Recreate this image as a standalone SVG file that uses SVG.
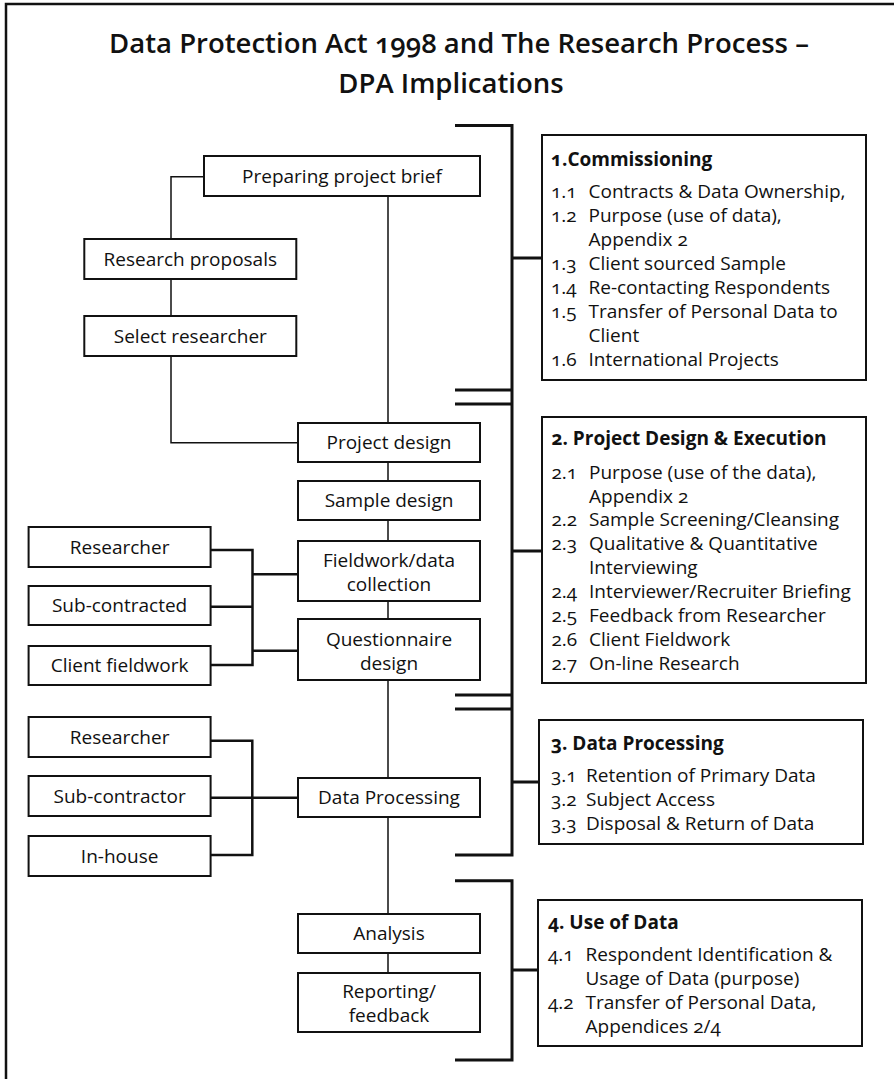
<svg xmlns="http://www.w3.org/2000/svg" width="894" height="1079" viewBox="0 0 894 1079">
<style>
text{font-family:"Open Sans","Noto Sans","Liberation Sans",sans-serif;font-size:19px;fill:#111;font-variant-numeric:oldstyle-nums;}
.t{font-size:27.5px;font-weight:600;text-anchor:middle;}
.c{text-anchor:middle;}
.h{font-weight:700;}
.box{fill:#fff;stroke:#111;stroke-width:2;}
.thin{fill:none;stroke:#111;stroke-width:1.5;}
.mid{fill:none;stroke:#111;stroke-width:2.5;}
.br{fill:none;stroke:#111;stroke-width:3;}
</style>
<rect x="0" y="0" width="894" height="1079" fill="#fff"/>
<path d="M6,1079 V4 H894" fill="none" stroke="#111" stroke-width="2.5"/>
<g id="title">
<text class="t" x="459" y="53">Data Protection Act 1998 and The Research Process –</text>
<text class="t" x="451" y="93">DPA Implications</text>
</g>
<g id="connectors">
<path class="thin" d="M388,196 V423 M388,462 V481 M388,520 V541 M388,601 V619 M388,680 V778 M388,817 V914 M388,953 V973"/>
<path class="thin" d="M204,176.7 H171 V239 M171,279 V316 M171,356 V442.7 H298"/>
<path class="mid" d="M210.7,550 H252.5 V665 H210.7 M210.7,606.7 H252.5 M252.5,574.3 H298 M252.5,650.7 H298"/>
<path class="mid" d="M210.7,740.7 H252.3 V855 H210.7 M210.7,797.7 H298"/>
<path class="br" d="M455,125.5 H512 V855 H455 M455,390 H512 M455,404 H512 M455,695 H512 M455,709 H512 M455,880.7 H512 V1060 H455"/>
<path class="br" d="M512,258 H542 M512,551 H542 M512,782 H539 M512,970 H538"/>
</g>
<g id="n-brief"><rect class="box" x="204" y="156" width="276" height="40"/><text class="c" x="342" y="182.5">Preparing project brief</text></g>
<g id="n-proposals"><rect class="box" x="84.3" y="239" width="212" height="40"/><text class="c" x="190.3" y="265.5">Research proposals</text></g>
<g id="n-select"><rect class="box" x="84.3" y="316" width="212" height="40"/><text class="c" x="190.3" y="342.5">Select researcher</text></g>
<g id="n-projdesign"><rect class="box" x="298" y="423" width="182" height="39"/><text class="c" x="389" y="449">Project design</text></g>
<g id="n-sample"><rect class="box" x="298" y="481" width="182" height="39"/><text class="c" x="389" y="507">Sample design</text></g>
<g id="n-fieldwork"><rect class="box" x="298" y="541" width="182" height="60"/><text class="c" x="389" y="566.5">Fieldwork/data</text><text class="c" x="389" y="590.5">collection</text></g>
<g id="n-questionnaire"><rect class="box" x="298" y="619" width="182" height="61"/><text class="c" x="389" y="645.5">Questionnaire</text><text class="c" x="389" y="669.5">design</text></g>
<g id="n-researcher1"><rect class="box" x="28.6" y="527" width="182" height="40"/><text class="c" x="119.6" y="553.5">Researcher</text></g>
<g id="n-subcontracted"><rect class="box" x="28.6" y="586" width="182" height="39"/><text class="c" x="119.6" y="612">Sub-contracted</text></g>
<g id="n-clientfw"><rect class="box" x="28.6" y="646" width="182" height="39"/><text class="c" x="119.6" y="672">Client fieldwork</text></g>
<g id="n-researcher2"><rect class="box" x="28.6" y="717" width="182" height="40"/><text class="c" x="119.6" y="743.5">Researcher</text></g>
<g id="n-subcontractor"><rect class="box" x="28.6" y="776" width="182" height="40"/><text class="c" x="119.6" y="802.5">Sub-contractor</text></g>
<g id="n-inhouse"><rect class="box" x="28.6" y="836" width="182" height="40"/><text class="c" x="119.6" y="862.5">In-house</text></g>
<g id="n-dataproc"><rect class="box" x="298" y="778" width="182" height="39"/><text class="c" x="389" y="804">Data Processing</text></g>
<g id="n-analysis"><rect class="box" x="298" y="914" width="182" height="39"/><text class="c" x="389" y="940">Analysis</text></g>
<g id="n-reporting"><rect class="box" x="298" y="973" width="182" height="59"/><text class="c" x="389" y="998">Reporting/</text><text class="c" x="389" y="1022">feedback</text></g>
<g id="b-commissioning">
<rect class="box" x="542" y="135" width="324" height="245"/>
<text class="h" x="551" y="166">1.Commissioning</text>
<text x="551" y="198">1.1</text><text x="588.5" y="198">Contracts &amp; Data Ownership,</text>
<text x="551" y="222">1.2</text><text x="588.5" y="222">Purpose (use of data),</text>
<text x="588.5" y="246">Appendix 2</text>
<text x="551" y="270">1.3</text><text x="588.5" y="270">Client sourced Sample</text>
<text x="551" y="294">1.4</text><text x="588.5" y="294">Re-contacting Respondents</text>
<text x="551" y="318">1.5</text><text x="588.5" y="318">Transfer of Personal Data to</text>
<text x="588.5" y="342">Client</text>
<text x="551" y="366">1.6</text><text x="588.5" y="366">International Projects</text>
</g>
<g id="b-design">
<rect class="box" x="542" y="417" width="324" height="266"/>
<text class="h" x="551.5" y="445">2. Project Design &amp; Execution</text>
<text x="551.5" y="479">2.1</text><text x="589" y="479">Purpose (use of the data),</text>
<text x="589" y="502.5">Appendix 2</text>
<text x="551.5" y="526">2.2</text><text x="589" y="526">Sample Screening/Cleansing</text>
<text x="551.5" y="550">2.3</text><text x="589" y="550">Qualitative &amp; Quantitative</text>
<text x="589" y="574">Interviewing</text>
<text x="551.5" y="598">2.4</text><text x="589" y="598">Interviewer/Recruiter Briefing</text>
<text x="551.5" y="622">2.5</text><text x="589" y="622">Feedback from Researcher</text>
<text x="551.5" y="646">2.6</text><text x="589" y="646">Client Fieldwork</text>
<text x="551.5" y="670">2.7</text><text x="589" y="670">On-line Research</text>
</g>
<g id="b-processing">
<rect class="box" x="539" y="720" width="324" height="124"/>
<text class="h" x="551" y="750">3. Data Processing</text>
<text x="551" y="782">3.1</text><text x="586" y="782">Retention of Primary Data</text>
<text x="551" y="806">3.2</text><text x="586" y="806">Subject Access</text>
<text x="551" y="830">3.3</text><text x="586" y="830">Disposal &amp; Return of Data</text>
</g>
<g id="b-use">
<rect class="box" x="538" y="900" width="324" height="146"/>
<text class="h" x="548" y="929">4. Use of Data</text>
<text x="548" y="961">4.1</text><text x="585.5" y="961">Respondent Identification &amp;</text>
<text x="585.5" y="985">Usage of Data (purpose)</text>
<text x="548" y="1009">4.2</text><text x="585.5" y="1009">Transfer of Personal Data,</text>
<text x="585.5" y="1033">Appendices 2/4</text>
</g>
</svg>
